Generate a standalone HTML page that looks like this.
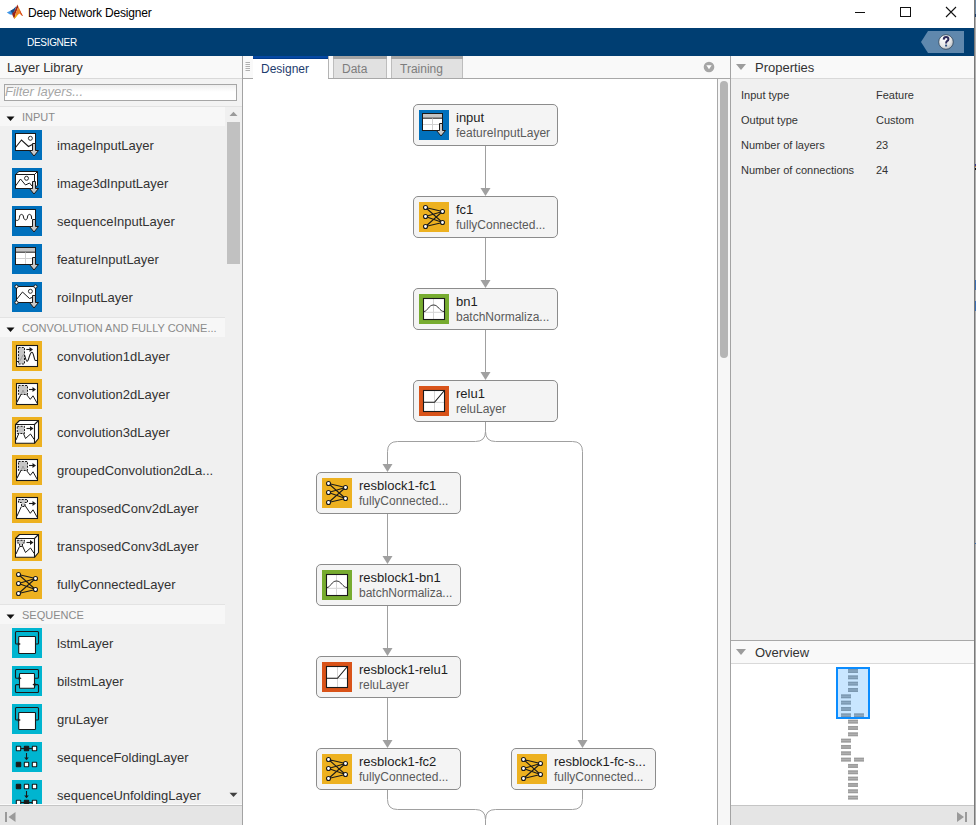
<!DOCTYPE html>
<html><head><meta charset="utf-8">
<style>
*{margin:0;padding:0;box-sizing:border-box}
html,body{width:976px;height:825px;overflow:hidden;background:#fff;font-family:"Liberation Sans",sans-serif;position:relative}
.a{position:absolute}
.t{position:absolute;white-space:nowrap}
.node{position:absolute;width:145px;height:42px;background:#f4f4f4;border:1px solid #8c8c8c;border-radius:5px}
</style></head><body>

<!-- title bar -->
<div class="a" style="left:0;top:0;width:976px;height:28px;background:#fff"></div>
<svg class="a" style="left:0;top:0" width="30" height="28" viewBox="0 0 30 28">
  <path d="M6.8 12.6 L10.5 10.8 L13.5 9 L16 6.5 L14.5 11.5 L12.8 14.8 L10 14.6 Z" fill="#3f95e6"/>
  <path d="M10.5 10.8 L13.5 9 L16 6.5 L14.2 11.8 L12.2 13.2 Z" fill="#1d4f86"/>
  <path d="M12.2 13.2 L14.2 11.8 L17.4 4.6 L18.3 7 L15.8 13 L14.3 18.9 L12.6 15.5 Z" fill="#9a2417"/>
  <path d="M17.4 4.6 L19.3 8.5 L21 12.5 L23 15.9 L21.5 15.3 L19.3 13.5 L16.8 16 L14.3 18.9 L15.8 13 L18.3 7 Z" fill="#ee8528"/>
  <path d="M19.3 8.5 L21 12.5 L23 15.9 L21.5 15.3 L20.2 12.5 Z" fill="#cf3a1c"/>
  <path d="M14.3 18.9 L15.2 15.5 L17.3 14.6 L16.4 16.4 Z" fill="#f6b500"/>
</svg>
<div class="t" style="left:28px;top:6px;font-size:12px;letter-spacing:-0.18px;color:#000;line-height:15px">Deep Network Designer</div>
<div class="a" style="left:855px;top:12px;width:10px;height:1px;background:#111"></div>
<div class="a" style="left:900px;top:7px;width:11px;height:10px;border:1px solid #111"></div>
<svg class="a" style="left:945px;top:6px" width="12" height="12" viewBox="0 0 12 12"><path d="M1 1L11 11M11 1L1 11" stroke="#111" stroke-width="1.1"/></svg>

<!-- blue toolstrip -->
<div class="a" style="left:0;top:28px;width:974px;height:28px;background:#003e72"></div>
<div class="t" style="left:27px;top:37px;font-size:10px;letter-spacing:-0.3px;color:#fff;line-height:12px">DESIGNER</div>
<svg class="a" style="left:920px;top:28px" width="46" height="28" viewBox="0 0 46 28">
  <path d="M1 14 L8 3 L44 3 L44 25 L8 25 Z" fill="#6088ad"/>
  <defs><radialGradient id="hg" cx="0.35" cy="0.3" r="0.8"><stop offset="0" stop-color="#ffffff"/><stop offset="0.6" stop-color="#e6e6e6"/><stop offset="1" stop-color="#a9b2bb"/></radialGradient></defs>
  <circle cx="26" cy="14" r="7.3" fill="url(#hg)" stroke="#2f4257" stroke-width="0.8"/>
  <path d="M23.7 11.6 Q23.8 9.1 26.1 9.1 Q28.4 9.1 28.4 11.2 Q28.4 12.5 27 13.2 Q26.1 13.7 26.1 15.4" fill="none" stroke="#2d2a5a" stroke-width="2"/><rect x="25.1" y="16.6" width="2" height="1.9" fill="#2d4f80"/>
</svg>

<!-- ===== left panel ===== -->
<div class="a" style="left:0;top:56px;width:242px;height:769px;background:#f0f0f0"></div>
<div class="a" style="left:0;top:56px;width:242px;height:22px;background:#f9f9f9"></div>
<div class="a" style="left:0;top:78px;width:242px;height:1px;background:#d9d9d9"></div>
<div class="t" style="left:7px;top:60px;font-size:13px;line-height:15px;color:#333">Layer Library</div>
<div class="a" style="left:0;top:79px;width:242px;height:27px;background:#f3f3f3"></div>
<div class="a" style="left:4px;top:84px;width:233px;height:17px;background:linear-gradient(#eeeeee,#ffffff 7px);border:1px solid #a6a6a6"></div>
<div class="t" style="left:5px;top:84px;font-size:13px;line-height:15px;color:#a6a6a6;font-style:italic">Filter layers...</div>
<div class="a" style="left:0;top:106px;width:242px;height:1px;background:#e3e3e3"></div>
<div class="a" style="left:0;top:107px;width:225px;height:19px;background:#f7f7f7"></div>
<svg class="a" style="left:6px;top:115.5px" width="9" height="6" viewBox="0 0 9 6"><path d="M0.5 0.5 L8.5 0.5 L4.5 5 Z" fill="#111"/></svg>
<div class="t" style="left:22px;top:110px;font-size:11px;line-height:15px;color:#8a8a8a">INPUT</div>
<svg class="a" style="left:12px;top:130px" width="30" height="30" viewBox="0 0 30 30"><rect width="30" height="30" fill="#0070bc"/>
<rect x="3.5" y="3.5" width="20" height="17" fill="#fff" stroke="#1a1a1a"/>
<path d="M3.5 17.5 L9.5 10 L16.5 16.5 L20.3 14.5" fill="none" stroke="#1a1a1a" stroke-width="1.1"/>
<circle cx="18.4" cy="8.3" r="2" fill="#fff" stroke="#1a1a1a" stroke-width="0.9"/>
<path d="M20.5 13.5 L23.5 13.5 L23.5 20.5 L26.5 20.5 L22 26 L17.5 20.5 L20.5 20.5 Z" fill="#c9c9c9" stroke="#1a1a1a" stroke-width="1" stroke-linejoin="miter"/></svg>
<div class="t" style="left:57px;top:138px;font-size:13px;line-height:15px;color:#333">imageInputLayer</div>
<svg class="a" style="left:12px;top:168px" width="30" height="30" viewBox="0 0 30 30"><rect width="30" height="30" fill="#0070bc"/>
<path d="M3.5 6.5 L7 3.5 L25.5 3.5 L25.5 17 L22.5 20.5 Z" fill="#fff" stroke="#1a1a1a" stroke-linejoin="round"/>
<path d="M22.5 6.5 L25.5 3.5" stroke="#1a1a1a"/>
<rect x="3.5" y="6.5" width="19" height="14" fill="#fff" stroke="#1a1a1a"/>
<path d="M3.5 18 L8.5 11 L13.5 17 L17.5 15 L20 18" fill="none" stroke="#1a1a1a"/>
<circle cx="14.5" cy="10.3" r="2" fill="#fff" stroke="#1a1a1a" stroke-width="0.9"/>
<path d="M20.5 13.5 L23.5 13.5 L23.5 20.5 L26.5 20.5 L22 26 L17.5 20.5 L20.5 20.5 Z" fill="#c9c9c9" stroke="#1a1a1a" stroke-width="1" stroke-linejoin="miter"/></svg>
<div class="t" style="left:57px;top:176px;font-size:13px;line-height:15px;color:#333">image3dInputLayer</div>
<svg class="a" style="left:12px;top:206px" width="30" height="30" viewBox="0 0 30 30"><rect width="30" height="30" fill="#0070bc"/>
<rect x="3.5" y="3.5" width="20" height="17" fill="#fff" stroke="#1a1a1a"/>
<path d="M3.5 14 C6.5 15.5 7.3 13 7.5 11 C7.7 7.5 11.3 7.5 11.5 11 C11.7 14.5 15.3 15 15.5 11 C15.7 7.5 19.3 7.5 19.5 11 L19.6 13" fill="none" stroke="#1a1a1a"/>
<path d="M20.5 13.5 L23.5 13.5 L23.5 20.5 L26.5 20.5 L22 26 L17.5 20.5 L20.5 20.5 Z" fill="#c9c9c9" stroke="#1a1a1a" stroke-width="1" stroke-linejoin="miter"/></svg>
<div class="t" style="left:57px;top:214px;font-size:13px;line-height:15px;color:#333">sequenceInputLayer</div>
<svg class="a" style="left:12px;top:244px" width="30" height="30" viewBox="0 0 30 30"><rect width="30" height="30" fill="#0070bc"/>
<rect x="3.5" y="3.5" width="20" height="17" fill="#fff" stroke="#1a1a1a"/>
<rect x="4" y="4" width="19" height="4" fill="#c4c4c4"/>
<path d="M3.5 8.2 L23.5 8.2" stroke="#1a1a1a"/>
<path d="M13.5 8.5 L13.5 20 M4 14.5 L23 14.5" stroke="#d0d0d0"/>
<path d="M20.5 13.5 L23.5 13.5 L23.5 20.5 L26.5 20.5 L22 26 L17.5 20.5 L20.5 20.5 Z" fill="#c9c9c9" stroke="#1a1a1a" stroke-width="1" stroke-linejoin="miter"/></svg>
<div class="t" style="left:57px;top:252px;font-size:13px;line-height:15px;color:#333">featureInputLayer</div>
<svg class="a" style="left:12px;top:282px" width="30" height="30" viewBox="0 0 30 30"><rect width="30" height="30" fill="#0070bc"/>
<rect x="4.5" y="4.5" width="19" height="16" fill="#fff" stroke="#1a1a1a"/>
<path d="M4.5 17.5 L10.5 10 L17.5 16.5 L20 15.5" fill="none" stroke="#1a1a1a"/>
<circle cx="18.4" cy="9.3" r="2" fill="#fff" stroke="#1a1a1a" stroke-width="0.9"/>
<circle cx="4.5" cy="4.5" r="1.6" fill="#fff" stroke="#1a1a1a" stroke-width="1"/>
<circle cx="23.5" cy="4.5" r="1.6" fill="#fff" stroke="#1a1a1a" stroke-width="1"/>
<circle cx="4.5" cy="20.5" r="1.6" fill="#fff" stroke="#1a1a1a" stroke-width="1"/>
<path d="M20.5 13.5 L23.5 13.5 L23.5 20.5 L26.5 20.5 L22 26 L17.5 20.5 L20.5 20.5 Z" fill="#c9c9c9" stroke="#1a1a1a" stroke-width="1" stroke-linejoin="miter"/></svg>
<div class="t" style="left:57px;top:290px;font-size:13px;line-height:15px;color:#333">roiInputLayer</div>
<div class="a" style="left:0;top:317px;width:225px;height:1px;background:#e3e3e3"></div>
<div class="a" style="left:0;top:318px;width:225px;height:19px;background:#f7f7f7"></div>
<svg class="a" style="left:6px;top:326.5px" width="9" height="6" viewBox="0 0 9 6"><path d="M0.5 0.5 L8.5 0.5 L4.5 5 Z" fill="#111"/></svg>
<div class="t" style="left:22px;top:321px;font-size:11px;line-height:15px;color:#8a8a8a">CONVOLUTION AND FULLY CONNE...</div>
<svg class="a" style="left:12px;top:341px" width="30" height="30" viewBox="0 0 30 30"><rect width="30" height="30" fill="#edb120"/>
<rect x="4.5" y="4.5" width="21" height="21" fill="#fff" stroke="#1a1a1a" stroke-width="1.1"/>
<rect x="6.5" y="6.5" width="6" height="16.5" fill="#c6c6c6" stroke="#1a1a1a" stroke-dasharray="2 1.3"/>
<path d="M6.8 20.5 C9 20.5 10.5 12 12.5 13.5" fill="none" stroke="#9a9a9a"/><path d="M4.8 20.5 L6.3 20.5 M12.7 14.5 C13.5 17.5 14.2 20.3 15.1 20.3 C16.8 20.3 17.5 11.2 19.9 11.2 C21.8 11.2 22 19.5 23.5 19.5 L25.5 19.5" fill="none" stroke="#1a1a1a" stroke-width="1.1"/>
<path d="M14.3 8.5 L18.5 8.5" stroke="#1a1a1a" stroke-width="1.1"/><path d="M17.5 6.0 L21.0 8.5 L17.5 11.0 Z" fill="#1a1a1a"/></svg>
<div class="t" style="left:57px;top:349px;font-size:13px;line-height:15px;color:#333">convolution1dLayer</div>
<svg class="a" style="left:12px;top:379px" width="30" height="30" viewBox="0 0 30 30"><rect width="30" height="30" fill="#edb120"/>
<rect x="4.5" y="4.5" width="21" height="21" fill="#fff" stroke="#1a1a1a" stroke-width="1.1"/>
<rect x="6.5" y="6.5" width="9" height="9" fill="#c6c6c6" stroke="#1a1a1a" stroke-dasharray="2 1.3"/>
<path d="M4.8 23.5 L9 15.5 M9.5 14.8 L11 11 L12.5 14.5" fill="none" stroke="#9a9a9a"/>
<path d="M4.8 23.5 L8.7 15.8 M14.5 15.5 L18.3 20.3 L21 16.8 L25.3 24.5" fill="none" stroke="#1a1a1a"/>
<path d="M17 10.5 L21.5 10.5" stroke="#1a1a1a" stroke-width="1.1"/><path d="M20.5 8.0 L24.0 10.5 L20.5 13.0 Z" fill="#1a1a1a"/></svg>
<div class="t" style="left:57px;top:387px;font-size:13px;line-height:15px;color:#333">convolution2dLayer</div>
<svg class="a" style="left:12px;top:417px" width="30" height="30" viewBox="0 0 30 30"><rect width="30" height="30" fill="#edb120"/>
<path d="M3.5 7.5 L7.5 3.5 L26.5 3.5 L26.5 21.5 L22.5 26.3 L3.5 26.3 Z" fill="#fff" stroke="#1a1a1a" stroke-width="1.1" stroke-linejoin="round"/>
<path d="M3.5 7.5 L22.5 7.5 L22.5 26.3 M22.5 7.5 L26.5 3.5" fill="none" stroke="#1a1a1a" stroke-width="1.1"/>
<rect x="5.3" y="9.3" width="7.2" height="7.2" fill="#c6c6c6" stroke="#1a1a1a" stroke-dasharray="2 1.3"/>
<path d="M4 23 L6.8 16.5 M11.5 16.5 L13.5 21.5 L18.5 17 L22.2 22.5" fill="none" stroke="#1a1a1a"/>
<path d="M14.5 11.5 L19 11.5" stroke="#1a1a1a" stroke-width="1.1"/><path d="M18 9.0 L21.5 11.5 L18 14.0 Z" fill="#1a1a1a"/></svg>
<div class="t" style="left:57px;top:425px;font-size:13px;line-height:15px;color:#333">convolution3dLayer</div>
<svg class="a" style="left:12px;top:455px" width="30" height="30" viewBox="0 0 30 30"><rect width="30" height="30" fill="#edb120"/>
<rect x="4.5" y="4.5" width="21" height="21" fill="#fff" stroke="#1a1a1a" stroke-width="1.1"/>
<rect x="6.5" y="6.5" width="9" height="9" fill="#c6c6c6" stroke="#1a1a1a" stroke-dasharray="2 1.3"/>
<path d="M4.8 23.5 L9 15.5 M9.5 14.8 L11 11 L12.5 14.5" fill="none" stroke="#9a9a9a"/>
<path d="M4.8 23.5 L8.7 15.8 M14.5 15.5 L18.3 20.3 L21 16.8 L25.3 24.5" fill="none" stroke="#1a1a1a"/>
<path d="M17 10.5 L21.5 10.5" stroke="#1a1a1a" stroke-width="1.1"/><path d="M20.5 8.0 L24.0 10.5 L20.5 13.0 Z" fill="#1a1a1a"/></svg>
<div class="t" style="left:57px;top:463px;font-size:13px;line-height:15px;color:#333">groupedConvolution2dLa...</div>
<svg class="a" style="left:12px;top:493px" width="30" height="30" viewBox="0 0 30 30"><rect width="30" height="30" fill="#edb120"/>
<rect x="4.5" y="4.5" width="21" height="21" fill="#fff" stroke="#1a1a1a" stroke-width="1.1"/>
<path d="M6.5 6.5 L15.5 6.5 L15.5 9.5 L13 9.5 L13 13.5 L9.5 13.5 L9.5 9.5 L6.5 9.5 Z" fill="#c6c6c6" stroke="#1a1a1a" stroke-dasharray="2 1.2"/>
<path d="M4.8 23.5 L9.3 13.7 M13 12.5 L18.3 20.3 L21 16.8 L25.3 24.5" fill="none" stroke="#1a1a1a"/>
<path d="M17 10.5 L21.5 10.5" stroke="#1a1a1a" stroke-width="1.1"/><path d="M20.5 8.0 L24.0 10.5 L20.5 13.0 Z" fill="#1a1a1a"/></svg>
<div class="t" style="left:57px;top:501px;font-size:13px;line-height:15px;color:#333">transposedConv2dLayer</div>
<svg class="a" style="left:12px;top:531px" width="30" height="30" viewBox="0 0 30 30"><rect width="30" height="30" fill="#edb120"/>
<path d="M3.5 7.5 L7.5 3.5 L26.5 3.5 L26.5 21.5 L22.5 26.3 L3.5 26.3 Z" fill="#fff" stroke="#1a1a1a" stroke-width="1.1" stroke-linejoin="round"/>
<path d="M3.5 7.5 L22.5 7.5 L22.5 26.3 M22.5 7.5 L26.5 3.5" fill="none" stroke="#1a1a1a" stroke-width="1.1"/>
<path d="M5.3 9.3 L12.5 9.3 L12.5 12 L10.5 12 L10.5 15.5 L7.5 15.5 L7.5 12 L5.3 12 Z" fill="#c6c6c6" stroke="#1a1a1a" stroke-dasharray="2 1.2"/>
<path d="M4 23 L7.5 15.5 M10.5 15 L13.5 21.5 L18.5 17 L22.2 22.5" fill="none" stroke="#1a1a1a"/>
<path d="M14.5 11.5 L19 11.5" stroke="#1a1a1a" stroke-width="1.1"/><path d="M18 9.0 L21.5 11.5 L18 14.0 Z" fill="#1a1a1a"/></svg>
<div class="t" style="left:57px;top:539px;font-size:13px;line-height:15px;color:#333">transposedConv3dLayer</div>
<svg class="a" style="left:12px;top:569px" width="30" height="30" viewBox="0 0 30 30"><rect width="30" height="30" fill="#edb120"/><path d="M6.5 5.5 L23.5 9.5 M6.5 5.5 L23.5 20.5 M6.5 14.5 L23.5 9.5 M6.5 14.5 L23.5 20.5 M6.5 24.5 L23.5 9.5 M6.5 24.5 L23.5 20.5 " stroke="#1a1a1a" stroke-width="1.05"/><circle cx="6.5" cy="5.5" r="2" fill="#fff" stroke="#1a1a1a" stroke-width="1.1"/><circle cx="6.5" cy="14.5" r="2" fill="#fff" stroke="#1a1a1a" stroke-width="1.1"/><circle cx="6.5" cy="24.5" r="2" fill="#fff" stroke="#1a1a1a" stroke-width="1.1"/><circle cx="23.5" cy="9.5" r="2" fill="#fff" stroke="#1a1a1a" stroke-width="1.1"/><circle cx="23.5" cy="20.5" r="2" fill="#fff" stroke="#1a1a1a" stroke-width="1.1"/></svg>
<div class="t" style="left:57px;top:577px;font-size:13px;line-height:15px;color:#333">fullyConnectedLayer</div>
<div class="a" style="left:0;top:604px;width:225px;height:1px;background:#e3e3e3"></div>
<div class="a" style="left:0;top:605px;width:225px;height:19px;background:#f7f7f7"></div>
<svg class="a" style="left:6px;top:613.5px" width="9" height="6" viewBox="0 0 9 6"><path d="M0.5 0.5 L8.5 0.5 L4.5 5 Z" fill="#111"/></svg>
<div class="t" style="left:22px;top:608px;font-size:11px;line-height:15px;color:#8a8a8a">SEQUENCE</div>
<svg class="a" style="left:12px;top:628px" width="30" height="30" viewBox="0 0 30 30"><rect width="30" height="30" fill="#00b5d0"/>
<path d="M7 16 L4.5 16 Q3.5 16 3.5 15 L3.5 4.5 Q3.5 3.5 4.5 3.5 L25.5 3.5 Q26.5 3.5 26.5 4.5 L26.5 15 Q26.5 16 25.5 16 L23.5 16" fill="none" stroke="#1a1a1a" stroke-width="1.1"/>
<rect x="6.7" y="8.5" width="16.8" height="17" rx="0.8" fill="#fff" stroke="#1a1a1a" stroke-width="1.1"/>
<path d="M5.8 14.2 L8.8 16 L5.8 17.8 Z" fill="#1a1a1a"/></svg>
<div class="t" style="left:57px;top:636px;font-size:13px;line-height:15px;color:#333">lstmLayer</div>
<svg class="a" style="left:12px;top:666px" width="30" height="30" viewBox="0 0 30 30"><rect width="30" height="30" fill="#00b5d0"/>
<path d="M7.5 12.2 L4.5 12.2 Q3.5 12.2 3.5 11.2 L3.5 4.5 Q3.5 3.5 4.5 3.5 L25.5 3.5 Q26.5 3.5 26.5 4.5 L26.5 11.2 Q26.5 12.2 25.5 12.2 L22.5 12.2" fill="none" stroke="#1a1a1a" stroke-width="1.1"/>
<path d="M7.5 18.6 L4.5 18.6 Q3.5 18.6 3.5 19.6 L3.5 25.5 Q3.5 26.5 4.5 26.5 L25.5 26.5 Q26.5 26.5 26.5 25.5 L26.5 19.6 Q26.5 18.6 25.5 18.6 L22.5 18.6" fill="none" stroke="#1a1a1a" stroke-width="1.1"/>
<rect x="7.5" y="7.5" width="15" height="14.8" rx="0.8" fill="#fff" stroke="#1a1a1a" stroke-width="1.1"/>
<path d="M6.6 10.4 L9.6 12.2 L6.6 14 Z M23.4 16.8 L20.4 18.6 L23.4 20.4 Z" fill="#1a1a1a"/></svg>
<div class="t" style="left:57px;top:674px;font-size:13px;line-height:15px;color:#333">bilstmLayer</div>
<svg class="a" style="left:12px;top:704px" width="30" height="30" viewBox="0 0 30 30"><rect width="30" height="30" fill="#00b5d0"/>
<path d="M7 16 L4.5 16 Q3.5 16 3.5 15 L3.5 4.5 Q3.5 3.5 4.5 3.5 L25.5 3.5 Q26.5 3.5 26.5 4.5 L26.5 15 Q26.5 16 25.5 16 L23.5 16" fill="none" stroke="#1a1a1a" stroke-width="1.1"/>
<rect x="6.7" y="8.5" width="16.8" height="17" rx="0.8" fill="#fff" stroke="#1a1a1a" stroke-width="1.1"/>
<path d="M5.8 14.2 L8.8 16 L5.8 17.8 Z" fill="#1a1a1a"/></svg>
<div class="t" style="left:57px;top:712px;font-size:13px;line-height:15px;color:#333">gruLayer</div>
<svg class="a" style="left:12px;top:742px" width="30" height="30" viewBox="0 0 30 30"><rect width="30" height="30" fill="#00b5d0"/>
<path d="M6.5 6.5 L22.5 6.5" stroke="#1a1a1a" stroke-width="1.1"/>
<rect x="4.3" y="4.3" width="4.4" height="4.4" rx="0.4" fill="#fff" stroke="#1a1a1a" stroke-width="1.1"/><rect x="12.3" y="4.3" width="4.4" height="4.4" rx="0.4" fill="#1a1a1a" stroke="#1a1a1a" stroke-width="1.1"/><rect x="20.3" y="4.3" width="4.4" height="4.4" rx="0.4" fill="#fff" stroke="#1a1a1a" stroke-width="1.1"/>
<path d="M14.5 11 L14.5 16" stroke="#1a1a1a" stroke-width="1.1"/><path d="M12.2 15.5 L14.5 18.2 L16.8 15.5 Z" fill="#1a1a1a"/>
<rect x="4.3" y="20.3" width="4.4" height="4.4" rx="0.4" fill="#1a1a1a" stroke="#1a1a1a" stroke-width="1.1"/><rect x="12.3" y="20.3" width="4.4" height="4.4" rx="0.4" fill="#fff" stroke="#1a1a1a" stroke-width="1.1"/><rect x="20.3" y="20.3" width="4.4" height="4.4" rx="0.4" fill="#fff" stroke="#1a1a1a" stroke-width="1.1"/></svg>
<div class="t" style="left:57px;top:750px;font-size:13px;line-height:15px;color:#333">sequenceFoldingLayer</div>
<svg class="a" style="left:12px;top:780px" width="30" height="30" viewBox="0 0 30 30"><rect width="30" height="30" fill="#00b5d0"/>
<rect x="4.3" y="4.3" width="4.4" height="4.4" rx="0.4" fill="#1a1a1a" stroke="#1a1a1a" stroke-width="1.1"/><rect x="12.3" y="4.3" width="4.4" height="4.4" rx="0.4" fill="#fff" stroke="#1a1a1a" stroke-width="1.1"/><rect x="20.3" y="4.3" width="4.4" height="4.4" rx="0.4" fill="#fff" stroke="#1a1a1a" stroke-width="1.1"/>
<path d="M14.5 11 L14.5 16" stroke="#1a1a1a" stroke-width="1.1"/><path d="M12.2 15.5 L14.5 18.2 L16.8 15.5 Z" fill="#1a1a1a"/>
<path d="M6.5 22.5 L22.5 22.5" stroke="#1a1a1a" stroke-width="1.1"/>
<rect x="4.3" y="20.3" width="4.4" height="4.4" rx="0.4" fill="#fff" stroke="#1a1a1a" stroke-width="1.1"/><rect x="12.3" y="20.3" width="4.4" height="4.4" rx="0.4" fill="#1a1a1a" stroke="#1a1a1a" stroke-width="1.1"/><rect x="20.3" y="20.3" width="4.4" height="4.4" rx="0.4" fill="#fff" stroke="#1a1a1a" stroke-width="1.1"/></svg>
<div class="t" style="left:57px;top:788px;font-size:13px;line-height:15px;color:#333">sequenceUnfoldingLayer</div>
<!-- list scrollbar -->
<svg class="a" style="left:229px;top:111px" width="9" height="6" viewBox="0 0 9 6"><path d="M0.5 5 L8.5 5 L4.5 0.8 Z" fill="#9a9a9a"/></svg>
<div class="a" style="left:227px;top:122px;width:13px;height:142px;background:#c1c1c1"></div>
<svg class="a" style="left:229px;top:792px" width="9" height="6" viewBox="0 0 9 6"><path d="M0.5 0.8 L8.5 0.8 L4.5 5 Z" fill="#404040"/></svg>
<!-- bottom bar left -->
<div class="a" style="left:0;top:804px;width:242px;height:1px;background:#fafafa"></div>
<div class="a" style="left:0;top:805px;width:242px;height:1px;background:#c5c5c5"></div>
<div class="a" style="left:0;top:806px;width:242px;height:19px;background:#e5e5e5"></div>
<svg class="a" style="left:4px;top:811px" width="13" height="12" viewBox="0 0 13 12"><rect x="1" y="1" width="2" height="10" fill="#9a9a9a"/><path d="M11.5 1 L11.5 11 L4.5 6 Z" fill="#9a9a9a"/></svg>

<!-- ===== center panel ===== -->
<div class="a" style="left:243px;top:56px;width:487px;height:22px;background:#f9f9f9"></div>
<div class="a" style="left:243px;top:78px;width:487px;height:1px;background:#a8a8a8"></div>
<!-- grip -->
<svg class="a" style="left:243px;top:56px" width="11" height="23" viewBox="0 0 11 23"><path d="M2.5 6.5 H7 M2.5 8.5 H7 M2.5 10.5 H7 M2.5 12.5 H7 M2.5 14.5 H7" stroke="#9d9d9d" stroke-width="0.8"/></svg>
<div class="a" style="left:253px;top:56px;width:1px;height:22px;background:#c8c8c8"></div>
<!-- Designer tab -->
<div class="a" style="left:253px;top:56px;width:75px;height:23px;background:#fff"></div>
<div class="a" style="left:253px;top:56px;width:75px;height:2px;background:#0548a3"></div><div class="a" style="left:253px;top:58px;width:75px;height:1px;background:#003a8c"></div>
<div class="a" style="left:328px;top:56px;width:1px;height:22px;background:#b4b4b4"></div>
<div class="t" style="left:261px;top:62px;font-size:12px;line-height:15px;color:#1d3c6e">Designer</div>
<!-- Data tab -->
<div class="a" style="left:333px;top:56px;width:54px;height:22px;background:#e1e1e1;border-left:1px solid #bdbdbd;border-right:1px solid #bdbdbd"></div>
<div class="a" style="left:333px;top:56px;width:54px;height:3px;background:#a4a4a4"></div>
<div class="t" style="left:342px;top:62px;font-size:12px;line-height:15px;color:#7d7d7d">Data</div>
<!-- Training tab -->
<div class="a" style="left:391px;top:56px;width:72px;height:22px;background:#e1e1e1;border-left:1px solid #bdbdbd;border-right:1px solid #bdbdbd"></div>
<div class="a" style="left:391px;top:56px;width:72px;height:3px;background:#a4a4a4"></div>
<div class="t" style="left:400px;top:62px;font-size:12px;line-height:15px;color:#7d7d7d">Training</div>
<!-- dropdown circle -->
<svg class="a" style="left:702px;top:60px" width="14" height="14" viewBox="0 0 14 14"><circle cx="7" cy="7" r="5.3" fill="#a6a6a6"/><path d="M4.3 5.3 L9.7 5.3 L7 9.3 Z" fill="#fff"/></svg>
<!-- canvas -->
<div class="a" style="left:243px;top:79px;width:474px;height:746px;background:#fff"></div>
<svg class="a" style="left:0;top:0" width="976" height="825" viewBox="0 0 976 825"><path d="M485.5 146 L485.5 190" stroke="#a0a0a0"/><path d="M480.5 188 L490.5 188 L485.5 196 Z" fill="#a0a0a0"/><path d="M485.5 238 L485.5 282" stroke="#a0a0a0"/><path d="M480.5 280 L490.5 280 L485.5 288 Z" fill="#a0a0a0"/><path d="M485.5 330 L485.5 374" stroke="#a0a0a0"/><path d="M480.5 372 L490.5 372 L485.5 380 Z" fill="#a0a0a0"/><path d="M387.5 514 L387.5 558" stroke="#a0a0a0"/><path d="M382.5 556 L392.5 556 L387.5 564 Z" fill="#a0a0a0"/><path d="M387.5 606 L387.5 650" stroke="#a0a0a0"/><path d="M382.5 648 L392.5 648 L387.5 656 Z" fill="#a0a0a0"/><path d="M387.5 698 L387.5 742" stroke="#a0a0a0"/><path d="M382.5 740 L392.5 740 L387.5 748 Z" fill="#a0a0a0"/><path d="M485.5 422 L485.5 431.5 Q485.5 441.5 475.5 441.5 L397.5 441.5 Q387.5 441.5 387.5 451.5 L387.5 466" fill="none" stroke="#a0a0a0"/><path d="M382.5 464 L392.5 464 L387.5 472 Z" fill="#a0a0a0"/><path d="M485.5 431.5 Q485.5 441.5 495.5 441.5 L572.5 441.5 Q582.5 441.5 582.5 451.5 L582.5 742" fill="none" stroke="#a0a0a0"/><path d="M577.5 740 L587.5 740 L582.5 748 Z" fill="#a0a0a0"/><path d="M387.5 790 L387.5 799.5 Q387.5 809.5 397.5 809.5 L475.5 809.5 Q485.5 809.5 485.5 819.5 L485.5 830" fill="none" stroke="#a0a0a0"/><path d="M582.5 790 L582.5 799.5 Q582.5 809.5 572.5 809.5 L495.5 809.5 Q485.5 809.5 485.5 819.5" fill="none" stroke="#a0a0a0"/></svg>
<div class="node" style="left:413px;top:104px"></div><svg class="a" style="left:419px;top:110px" width="30" height="30" viewBox="0 0 30 30"><rect width="30" height="30" fill="#0070bc"/>
<rect x="3.5" y="3.5" width="20" height="17" fill="#fff" stroke="#1a1a1a"/>
<rect x="4" y="4" width="19" height="4" fill="#c4c4c4"/>
<path d="M3.5 8.2 L23.5 8.2" stroke="#1a1a1a"/>
<path d="M13.5 8.5 L13.5 20 M4 14.5 L23 14.5" stroke="#d0d0d0"/>
<path d="M20.5 13.5 L23.5 13.5 L23.5 20.5 L26.5 20.5 L22 26 L17.5 20.5 L20.5 20.5 Z" fill="#c9c9c9" stroke="#1a1a1a" stroke-width="1" stroke-linejoin="miter"/></svg><div class="t" style="left:456px;top:110px;font-size:13px;line-height:15px;color:#1e1e1e">input</div><div class="t" style="left:456px;top:126px;font-size:12px;line-height:15px;color:#5a5a5a">featureInputLayer</div>
<div class="node" style="left:413px;top:196px"></div><svg class="a" style="left:419px;top:202px" width="30" height="30" viewBox="0 0 30 30"><rect width="30" height="30" fill="#edb120"/><path d="M6.5 5.5 L23.5 9.5 M6.5 5.5 L23.5 20.5 M6.5 14.5 L23.5 9.5 M6.5 14.5 L23.5 20.5 M6.5 24.5 L23.5 9.5 M6.5 24.5 L23.5 20.5 " stroke="#1a1a1a" stroke-width="1.05"/><circle cx="6.5" cy="5.5" r="2" fill="#fff" stroke="#1a1a1a" stroke-width="1.1"/><circle cx="6.5" cy="14.5" r="2" fill="#fff" stroke="#1a1a1a" stroke-width="1.1"/><circle cx="6.5" cy="24.5" r="2" fill="#fff" stroke="#1a1a1a" stroke-width="1.1"/><circle cx="23.5" cy="9.5" r="2" fill="#fff" stroke="#1a1a1a" stroke-width="1.1"/><circle cx="23.5" cy="20.5" r="2" fill="#fff" stroke="#1a1a1a" stroke-width="1.1"/></svg><div class="t" style="left:456px;top:202px;font-size:13px;line-height:15px;color:#1e1e1e">fc1</div><div class="t" style="left:456px;top:218px;font-size:12px;line-height:15px;color:#5a5a5a">fullyConnected...</div>
<div class="node" style="left:413px;top:288px"></div><svg class="a" style="left:419px;top:294px" width="30" height="30" viewBox="0 0 30 30"><rect width="30" height="30" fill="#77ac30"/>
<rect x="4.5" y="4.5" width="21" height="21" fill="#fff"/>
<path d="M14.5 5 L14.5 25 M5 18.3 L25 18.3" stroke="#d4d4d4"/>
<path d="M5 17.5 C8.5 17.5 9.5 11 14.5 11 C19.5 11 20.5 17.5 25 17.5" fill="none" stroke="#1a1a1a" stroke-width="0.9"/>
<rect x="4.5" y="4.5" width="21" height="21" fill="none" stroke="#1a1a1a" stroke-width="1.1"/></svg><div class="t" style="left:456px;top:294px;font-size:13px;line-height:15px;color:#1e1e1e">bn1</div><div class="t" style="left:456px;top:310px;font-size:12px;line-height:15px;color:#5a5a5a">batchNormaliza...</div>
<div class="node" style="left:413px;top:380px"></div><svg class="a" style="left:419px;top:386px" width="30" height="30" viewBox="0 0 30 30"><rect width="30" height="30" fill="#d95319"/>
<rect x="4.5" y="4.5" width="21" height="21" fill="#fff"/>
<path d="M15.5 5 L15.5 25 M5 16.4 L25 16.4" stroke="#d4d4d4"/>
<path d="M5 16.3 L15.5 16.3 L25 5" fill="none" stroke="#1a1a1a" stroke-width="1.1"/>
<rect x="4.5" y="4.5" width="21" height="21" fill="none" stroke="#1a1a1a" stroke-width="1.1"/></svg><div class="t" style="left:456px;top:386px;font-size:13px;line-height:15px;color:#1e1e1e">relu1</div><div class="t" style="left:456px;top:402px;font-size:12px;line-height:15px;color:#5a5a5a">reluLayer</div>
<div class="node" style="left:316px;top:472px"></div><svg class="a" style="left:322px;top:478px" width="30" height="30" viewBox="0 0 30 30"><rect width="30" height="30" fill="#edb120"/><path d="M6.5 5.5 L23.5 9.5 M6.5 5.5 L23.5 20.5 M6.5 14.5 L23.5 9.5 M6.5 14.5 L23.5 20.5 M6.5 24.5 L23.5 9.5 M6.5 24.5 L23.5 20.5 " stroke="#1a1a1a" stroke-width="1.05"/><circle cx="6.5" cy="5.5" r="2" fill="#fff" stroke="#1a1a1a" stroke-width="1.1"/><circle cx="6.5" cy="14.5" r="2" fill="#fff" stroke="#1a1a1a" stroke-width="1.1"/><circle cx="6.5" cy="24.5" r="2" fill="#fff" stroke="#1a1a1a" stroke-width="1.1"/><circle cx="23.5" cy="9.5" r="2" fill="#fff" stroke="#1a1a1a" stroke-width="1.1"/><circle cx="23.5" cy="20.5" r="2" fill="#fff" stroke="#1a1a1a" stroke-width="1.1"/></svg><div class="t" style="left:359px;top:478px;font-size:13px;line-height:15px;color:#1e1e1e">resblock1-fc1</div><div class="t" style="left:359px;top:494px;font-size:12px;line-height:15px;color:#5a5a5a">fullyConnected...</div>
<div class="node" style="left:316px;top:564px"></div><svg class="a" style="left:322px;top:570px" width="30" height="30" viewBox="0 0 30 30"><rect width="30" height="30" fill="#77ac30"/>
<rect x="4.5" y="4.5" width="21" height="21" fill="#fff"/>
<path d="M14.5 5 L14.5 25 M5 18.3 L25 18.3" stroke="#d4d4d4"/>
<path d="M5 17.5 C8.5 17.5 9.5 11 14.5 11 C19.5 11 20.5 17.5 25 17.5" fill="none" stroke="#1a1a1a" stroke-width="0.9"/>
<rect x="4.5" y="4.5" width="21" height="21" fill="none" stroke="#1a1a1a" stroke-width="1.1"/></svg><div class="t" style="left:359px;top:570px;font-size:13px;line-height:15px;color:#1e1e1e">resblock1-bn1</div><div class="t" style="left:359px;top:586px;font-size:12px;line-height:15px;color:#5a5a5a">batchNormaliza...</div>
<div class="node" style="left:316px;top:656px"></div><svg class="a" style="left:322px;top:662px" width="30" height="30" viewBox="0 0 30 30"><rect width="30" height="30" fill="#d95319"/>
<rect x="4.5" y="4.5" width="21" height="21" fill="#fff"/>
<path d="M15.5 5 L15.5 25 M5 16.4 L25 16.4" stroke="#d4d4d4"/>
<path d="M5 16.3 L15.5 16.3 L25 5" fill="none" stroke="#1a1a1a" stroke-width="1.1"/>
<rect x="4.5" y="4.5" width="21" height="21" fill="none" stroke="#1a1a1a" stroke-width="1.1"/></svg><div class="t" style="left:359px;top:662px;font-size:13px;line-height:15px;color:#1e1e1e">resblock1-relu1</div><div class="t" style="left:359px;top:678px;font-size:12px;line-height:15px;color:#5a5a5a">reluLayer</div>
<div class="node" style="left:316px;top:748px"></div><svg class="a" style="left:322px;top:754px" width="30" height="30" viewBox="0 0 30 30"><rect width="30" height="30" fill="#edb120"/><path d="M6.5 5.5 L23.5 9.5 M6.5 5.5 L23.5 20.5 M6.5 14.5 L23.5 9.5 M6.5 14.5 L23.5 20.5 M6.5 24.5 L23.5 9.5 M6.5 24.5 L23.5 20.5 " stroke="#1a1a1a" stroke-width="1.05"/><circle cx="6.5" cy="5.5" r="2" fill="#fff" stroke="#1a1a1a" stroke-width="1.1"/><circle cx="6.5" cy="14.5" r="2" fill="#fff" stroke="#1a1a1a" stroke-width="1.1"/><circle cx="6.5" cy="24.5" r="2" fill="#fff" stroke="#1a1a1a" stroke-width="1.1"/><circle cx="23.5" cy="9.5" r="2" fill="#fff" stroke="#1a1a1a" stroke-width="1.1"/><circle cx="23.5" cy="20.5" r="2" fill="#fff" stroke="#1a1a1a" stroke-width="1.1"/></svg><div class="t" style="left:359px;top:754px;font-size:13px;line-height:15px;color:#1e1e1e">resblock1-fc2</div><div class="t" style="left:359px;top:770px;font-size:12px;line-height:15px;color:#5a5a5a">fullyConnected...</div>
<div class="node" style="left:511px;top:748px"></div><svg class="a" style="left:517px;top:754px" width="30" height="30" viewBox="0 0 30 30"><rect width="30" height="30" fill="#edb120"/><path d="M6.5 5.5 L23.5 9.5 M6.5 5.5 L23.5 20.5 M6.5 14.5 L23.5 9.5 M6.5 14.5 L23.5 20.5 M6.5 24.5 L23.5 9.5 M6.5 24.5 L23.5 20.5 " stroke="#1a1a1a" stroke-width="1.05"/><circle cx="6.5" cy="5.5" r="2" fill="#fff" stroke="#1a1a1a" stroke-width="1.1"/><circle cx="6.5" cy="14.5" r="2" fill="#fff" stroke="#1a1a1a" stroke-width="1.1"/><circle cx="6.5" cy="24.5" r="2" fill="#fff" stroke="#1a1a1a" stroke-width="1.1"/><circle cx="23.5" cy="9.5" r="2" fill="#fff" stroke="#1a1a1a" stroke-width="1.1"/><circle cx="23.5" cy="20.5" r="2" fill="#fff" stroke="#1a1a1a" stroke-width="1.1"/></svg><div class="t" style="left:554px;top:754px;font-size:13px;line-height:15px;color:#1e1e1e">resblock1-fc-s...</div><div class="t" style="left:554px;top:770px;font-size:12px;line-height:15px;color:#5a5a5a">fullyConnected...</div>
<!-- canvas scrollbar -->
<div class="a" style="left:717px;top:79px;width:1px;height:746px;background:#a8a8a8"></div>
<div class="a" style="left:718px;top:79px;width:12px;height:746px;background:#f7f7f7"></div>
<div class="a" style="left:720px;top:81px;width:8px;height:277px;background:#b5b5b5;border-radius:4px"></div>

<!-- ===== right panel ===== -->
<div class="a" style="left:731px;top:56px;width:243px;height:769px;background:#f0f0f0"></div>
<div class="a" style="left:731px;top:56px;width:243px;height:22px;background:#f9f9f9"></div>
<div class="a" style="left:731px;top:78px;width:243px;height:1px;background:#d9d9d9"></div>
<svg class="a" style="left:735px;top:63px" width="12" height="8" viewBox="0 0 12 8"><path d="M1 1 L11 1 L6 7 Z" fill="#9c9c9c"/></svg>
<div class="t" style="left:755px;top:60px;font-size:13px;line-height:15px;color:#333">Properties</div>
<div class="t" style="left:741px;top:88px;font-size:11px;line-height:14px;color:#333">Input type</div><div class="t" style="left:876px;top:88px;font-size:11px;line-height:14px;color:#333">Feature</div><div class="t" style="left:741px;top:113px;font-size:11px;line-height:14px;color:#333">Output type</div><div class="t" style="left:876px;top:113px;font-size:11px;line-height:14px;color:#333">Custom</div><div class="t" style="left:741px;top:138px;font-size:11px;line-height:14px;color:#333">Number of layers</div><div class="t" style="left:876px;top:138px;font-size:11px;line-height:14px;color:#333">23</div><div class="t" style="left:741px;top:163px;font-size:11px;line-height:14px;color:#333">Number of connections</div><div class="t" style="left:876px;top:163px;font-size:11px;line-height:14px;color:#333">24</div>
<div class="a" style="left:731px;top:640px;width:243px;height:1px;background:#a8a8a8"></div>
<div class="a" style="left:731px;top:641px;width:243px;height:22px;background:#f9f9f9"></div>
<div class="a" style="left:731px;top:663px;width:243px;height:1px;background:#d9d9d9"></div>
<svg class="a" style="left:735px;top:648px" width="12" height="8" viewBox="0 0 12 8"><path d="M1 1 L11 1 L6 7 Z" fill="#9c9c9c"/></svg>
<div class="t" style="left:755px;top:645px;font-size:13px;line-height:15px;color:#333">Overview</div>
<div class="a" style="left:731px;top:664px;width:243px;height:141px;background:#fff"></div>
<svg class="a" style="left:0;top:0" width="976" height="825" viewBox="0 0 976 825"><rect x="848" y="669.00" width="10" height="4" fill="#9c9c9c"/><rect x="848" y="670.50" width="10" height="1" fill="#b4b4b4"/><rect x="848" y="675.33" width="10" height="4" fill="#9c9c9c"/><rect x="848" y="676.83" width="10" height="1" fill="#b4b4b4"/><rect x="848" y="681.66" width="10" height="4" fill="#9c9c9c"/><rect x="848" y="683.16" width="10" height="1" fill="#b4b4b4"/><rect x="848" y="687.99" width="10" height="4" fill="#9c9c9c"/><rect x="848" y="689.49" width="10" height="1" fill="#b4b4b4"/><rect x="841" y="694.32" width="10" height="4" fill="#9c9c9c"/><rect x="841" y="695.82" width="10" height="1" fill="#b4b4b4"/><rect x="841" y="700.65" width="10" height="4" fill="#9c9c9c"/><rect x="841" y="702.15" width="10" height="1" fill="#b4b4b4"/><rect x="841" y="706.98" width="10" height="4" fill="#9c9c9c"/><rect x="841" y="708.48" width="10" height="1" fill="#b4b4b4"/><rect x="841" y="713.31" width="10" height="4" fill="#9c9c9c"/><rect x="841" y="714.81" width="10" height="1" fill="#b4b4b4"/><rect x="854" y="713.31" width="10" height="4" fill="#9c9c9c"/><rect x="854" y="714.81" width="10" height="1" fill="#b4b4b4"/><rect x="848" y="719.64" width="10" height="4" fill="#9c9c9c"/><rect x="848" y="721.14" width="10" height="1" fill="#b4b4b4"/><rect x="848" y="725.97" width="10" height="4" fill="#9c9c9c"/><rect x="848" y="727.47" width="10" height="1" fill="#b4b4b4"/><rect x="848" y="732.30" width="10" height="4" fill="#9c9c9c"/><rect x="848" y="733.80" width="10" height="1" fill="#b4b4b4"/><rect x="841" y="738.63" width="10" height="4" fill="#9c9c9c"/><rect x="841" y="740.13" width="10" height="1" fill="#b4b4b4"/><rect x="841" y="744.96" width="10" height="4" fill="#9c9c9c"/><rect x="841" y="746.46" width="10" height="1" fill="#b4b4b4"/><rect x="841" y="751.29" width="10" height="4" fill="#9c9c9c"/><rect x="841" y="752.79" width="10" height="1" fill="#b4b4b4"/><rect x="841" y="757.62" width="10" height="4" fill="#9c9c9c"/><rect x="841" y="759.12" width="10" height="1" fill="#b4b4b4"/><rect x="854" y="757.62" width="10" height="4" fill="#9c9c9c"/><rect x="854" y="759.12" width="10" height="1" fill="#b4b4b4"/><rect x="848" y="763.95" width="10" height="4" fill="#9c9c9c"/><rect x="848" y="765.45" width="10" height="1" fill="#b4b4b4"/><rect x="848" y="770.28" width="10" height="4" fill="#9c9c9c"/><rect x="848" y="771.78" width="10" height="1" fill="#b4b4b4"/><rect x="848" y="776.61" width="10" height="4" fill="#9c9c9c"/><rect x="848" y="778.11" width="10" height="1" fill="#b4b4b4"/><rect x="848" y="782.94" width="10" height="4" fill="#9c9c9c"/><rect x="848" y="784.44" width="10" height="1" fill="#b4b4b4"/><rect x="848" y="789.27" width="10" height="4" fill="#9c9c9c"/><rect x="848" y="790.77" width="10" height="1" fill="#b4b4b4"/><rect x="848" y="795.60" width="10" height="4" fill="#9c9c9c"/><rect x="848" y="797.10" width="10" height="1" fill="#b4b4b4"/><rect x="837" y="668" width="32" height="50" fill="#0a8cff" fill-opacity="0.22" stroke="#0a8cff" stroke-width="2"/></svg>
<div class="a" style="left:731px;top:805px;width:243px;height:1px;background:#c5c5c5"></div>
<div class="a" style="left:731px;top:806px;width:243px;height:19px;background:#e5e5e5"></div>
<svg class="a" style="left:955px;top:811px" width="14" height="12" viewBox="0 0 14 12"><path d="M2 1 L2 11 L9 6 Z" fill="#9a9a9a"/><rect x="10" y="1" width="2" height="10" fill="#9a9a9a"/></svg>

<!-- borders -->
<div class="a" style="left:242px;top:56px;width:1px;height:769px;background:#a3a3a3"></div>
<div class="a" style="left:730px;top:56px;width:1px;height:769px;background:#a3a3a3"></div>
<div class="a" style="left:974px;top:0;width:1px;height:825px;background:#7a7a7a"></div>
<div class="a" style="left:975px;top:0;width:1px;height:825px;background:#b0b0b0"></div>
<div class="a" style="left:975px;top:0;width:1px;height:14px;background:#6f8aa5"></div>
<div class="a" style="left:975px;top:14px;width:1px;height:3px;background:#1d3d6a"></div>
<div class="a" style="left:975px;top:164px;width:1px;height:2px;background:#3b3b8a"></div>
<div class="a" style="left:975px;top:166px;width:1px;height:1px;background:#c07030"></div>
<div class="a" style="left:975px;top:168px;width:1px;height:2px;background:#111"></div>
<div class="a" style="left:975px;top:280px;width:1px;height:10px;background:#3b6fb5"></div>
<div class="a" style="left:975px;top:301px;width:1px;height:10px;background:#3b6fb5"></div>
<div class="a" style="left:975px;top:543px;width:1px;height:1px;background:#3b6fb5"></div>
</body></html>
